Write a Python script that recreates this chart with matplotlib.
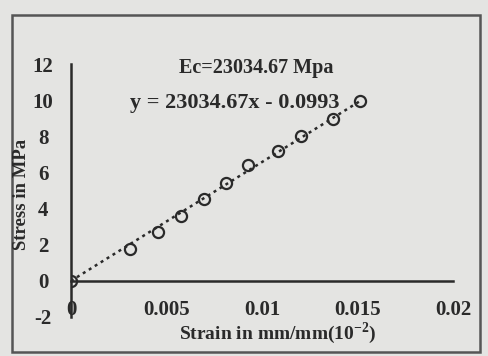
import matplotlib
matplotlib.use("Agg")
import matplotlib.pyplot as plt
from matplotlib.patches import Rectangle

strain = [0.0, 0.0031, 0.00456, 0.00574, 0.00696, 0.0081, 0.00925, 0.01083, 0.01205, 0.01372, 0.01512]
stress = [0.0, 1.78, 2.71, 3.61, 4.55, 5.39, 6.39, 7.21, 8.02, 8.95, 9.94]
xticks = [0, 0.005, 0.01, 0.015, 0.02]
xticklabels = ["0", "0.005", "0.01", "0.015", "0.02"]
yticks = [-2, 0, 2, 4, 6, 8, 10, 12]
label_ec = "Ec=23034.67 Mpa"
label_eq = "y = 23034.67x - 0.0993"

plt.rcParams['font.family'] = ['Liberation Serif', 'DejaVu Serif']
plt.rcParams['axes.unicode_minus'] = False
plt.rcParams['mathtext.fontset'] = 'custom'
plt.rcParams['mathtext.rm'] = 'Liberation Serif'
plt.rcParams['mathtext.bf'] = 'Liberation Serif:bold'
bg = '#e4e4e2'
ink = '#2a2a2a'

fig = plt.figure(figsize=(4.89, 3.56), dpi=100, facecolor=bg)
fig.patches.append(Rectangle((12/489, 1-352/356), (480-12)/489, (352-15)/356,
                             transform=fig.transFigure, fill=False,
                             edgecolor='#555555', linewidth=1.8))

ax = fig.add_axes([71/489, 1-317/356, (453-71)/489, (317-64)/356])
ax.set_facecolor('none')
ax.plot([strain[0], strain[-1]], [stress[0], stress[-1]], linestyle=(0, (1.2, 1.6)),
        color=ink, linewidth=1.8, zorder=2)
ax.plot(strain, stress, linestyle='none', marker='o', markersize=8,
        markerfacecolor='none', markeredgecolor=ink, markeredgewidth=1.6, zorder=3)

ax.set_xlim(0, 0.02)
ax.set_ylim(-2, 12)
ax.spines['top'].set_visible(False)
ax.spines['right'].set_visible(False)
ax.spines['bottom'].set_position(('data', 0))
for s in ('left', 'bottom'):
    ax.spines[s].set_color(ink)
    ax.spines[s].set_linewidth(1.8)
ax.set_xticks(xticks)
ax.set_xticklabels(xticklabels)
ax.set_yticks(yticks)
ax.tick_params(axis='x', length=0, pad=14, labelsize=15, colors=ink)
ax.tick_params(axis='y', length=0, pad=20, labelsize=15, colors=ink)
for t in ax.get_yticklabels():
    t.set_horizontalalignment('center')
    t.set_fontweight('bold')
for t in ax.get_xticklabels():
    t.set_fontweight('bold')

fig.text(22/489, 1-194/356, "Stress in MPa", rotation=90, ha='center', va='center',
         fontsize=13.5, fontweight='bold', color=ink)
fig.text(278/489, 1-333/356, "Strain in mm/mm(10$^{\\mathbf{-2}}$)", ha='center', va='center',
         fontsize=14, fontweight='bold', color=ink)
fig.text(256/489, 1-68/356, label_ec, ha='center', va='center', fontsize=14.5,
         fontweight='bold', color=ink)
fig.text(235/489, 1-103/356, label_eq, ha='center', va='center', fontsize=16,
         fontweight='bold', color=ink)

fig.savefig("out.png", dpi=100, facecolor=bg)
